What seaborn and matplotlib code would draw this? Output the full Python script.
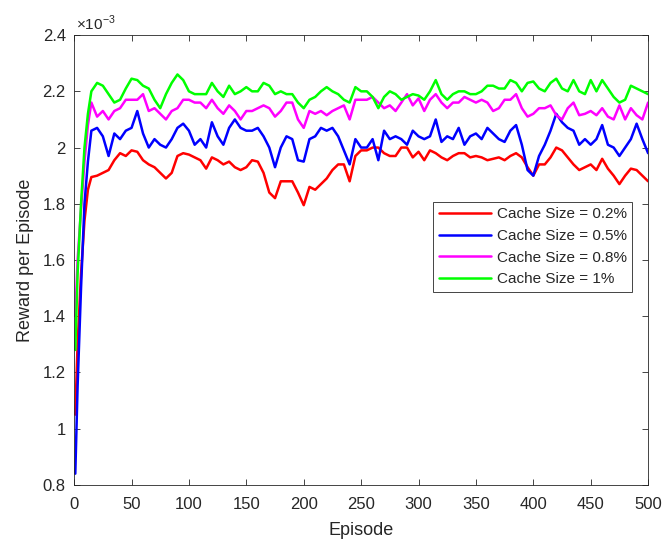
import pandas as pd
import matplotlib
matplotlib.use("Agg")
import matplotlib.pyplot as plt
import numpy as np
import seaborn as sns

# values, reward in units of 1e-3
episodes = [1, 3, 6, 9, 12] + list(range(15, 501, 5))

red = [1.05, 1.30, 1.55, 1.74, 1.85,
       1.895, 1.90, 1.91, 1.92, 1.955, 1.98, 1.97, 1.99, 1.985, 1.955, 1.94, 1.93, 1.91, 1.89, 1.91, 1.97, 1.98, 1.975,
       1.965, 1.955, 1.925, 1.965, 1.955, 1.94, 1.95, 1.93, 1.92, 1.93, 1.955, 1.95, 1.91, 1.84, 1.82, 1.88, 1.88, 1.88, 1.84, 1.795,
       1.86, 1.85, 1.87, 1.89, 1.92, 1.94, 1.94, 1.88, 1.97, 1.99, 1.99, 2.00, 2.00, 1.98, 1.97, 1.97, 2.00, 2.00, 1.965, 1.985,
       1.955, 1.99, 1.98, 1.965, 1.955, 1.97, 1.98, 1.98, 1.965, 1.97, 1.965, 1.955, 1.96, 1.965, 1.955, 1.97, 1.98, 1.965, 1.93, 1.90,
       1.94, 1.94, 1.965, 2.00, 1.99, 1.965, 1.94, 1.92, 1.93, 1.94, 1.92, 1.96, 1.925, 1.90, 1.87, 1.90, 1.925, 1.92, 1.90, 1.88]

blue = [0.84, 1.15, 1.50, 1.80, 1.95,
        2.06, 2.07, 2.04, 1.97, 2.05, 2.03, 2.06, 2.07, 2.13, 2.05, 2.00, 2.03, 2.01, 2.00, 2.03, 2.07, 2.085, 2.06,
        2.01, 2.03, 2.00, 2.09, 2.04, 2.01, 2.07, 2.10, 2.07, 2.06, 2.06, 2.07, 2.04, 2.00, 1.93, 2.00, 2.04, 2.03, 1.955, 1.95,
        2.03, 2.04, 2.07, 2.06, 2.07, 2.04, 1.99, 1.94, 2.03, 2.00, 2.00, 2.03, 1.955, 2.06, 2.03, 2.04, 2.03, 2.01, 2.06, 2.04,
        2.03, 2.04, 2.10, 2.02, 2.04, 2.03, 2.07, 2.01, 2.04, 2.05, 2.03, 2.07, 2.05, 2.03, 2.02, 2.06, 2.08, 2.01, 1.92, 1.90,
        1.97, 2.01, 2.06, 2.12, 2.09, 2.07, 2.06, 2.01, 2.03, 2.01, 2.03, 2.08, 2.01, 2.00, 1.97, 2.00, 2.03, 2.085, 2.03, 1.98]

magenta = [1.40, 1.60, 1.78, 1.95, 2.08,
           2.16, 2.11, 2.13, 2.10, 2.13, 2.14, 2.17, 2.17, 2.17, 2.19, 2.13, 2.14, 2.12, 2.10, 2.13, 2.14, 2.17, 2.17,
           2.16, 2.16, 2.14, 2.17, 2.14, 2.12, 2.15, 2.13, 2.10, 2.13, 2.13, 2.14, 2.15, 2.14, 2.11, 2.13, 2.16, 2.16, 2.10, 2.07,
           2.13, 2.12, 2.13, 2.115, 2.13, 2.14, 2.15, 2.10, 2.17, 2.17, 2.17, 2.18, 2.16, 2.14, 2.15, 2.13, 2.16, 2.19, 2.15, 2.175,
           2.13, 2.17, 2.19, 2.16, 2.14, 2.16, 2.16, 2.18, 2.17, 2.16, 2.17, 2.16, 2.13, 2.14, 2.17, 2.17, 2.19, 2.14, 2.11, 2.12,
           2.14, 2.14, 2.15, 2.115, 2.10, 2.14, 2.16, 2.115, 2.12, 2.13, 2.115, 2.14, 2.11, 2.10, 2.15, 2.10, 2.14, 2.115, 2.10, 2.16]

green = [1.28, 1.55, 1.80, 2.00, 2.12,
         2.20, 2.23, 2.22, 2.19, 2.16, 2.17, 2.21, 2.245, 2.24, 2.22, 2.21, 2.17, 2.14, 2.19, 2.23, 2.26, 2.24, 2.20,
         2.19, 2.19, 2.19, 2.23, 2.20, 2.18, 2.22, 2.19, 2.20, 2.215, 2.20, 2.20, 2.23, 2.22, 2.19, 2.20, 2.19, 2.19, 2.16, 2.14,
         2.17, 2.18, 2.20, 2.215, 2.20, 2.19, 2.17, 2.16, 2.215, 2.20, 2.20, 2.18, 2.14, 2.18, 2.20, 2.19, 2.17, 2.18, 2.19, 2.185,
         2.17, 2.20, 2.24, 2.19, 2.17, 2.19, 2.20, 2.20, 2.19, 2.19, 2.20, 2.22, 2.22, 2.21, 2.21, 2.24, 2.23, 2.20, 2.23, 2.235,
         2.21, 2.20, 2.23, 2.245, 2.21, 2.20, 2.24, 2.20, 2.19, 2.24, 2.20, 2.24, 2.21, 2.18, 2.16, 2.17, 2.22, 2.21, 2.20, 2.19]

labels = ["Cache Size = 0.2%", "Cache Size = 0.5%", "Cache Size = 0.8%", "Cache Size = 1%"]
colors = ["#ff0000", "#0000ff", "#ff00ff", "#00ff00"]
yticks = [0.8, 1, 1.2, 1.4, 1.6, 1.8, 2, 2.2, 2.4]
xticks = list(range(0, 501, 50))

sns.set_style("ticks")
plt.rcParams["font.family"] = ["Liberation Sans", "DejaVu Sans"]
plt.rcParams["mathtext.fontset"] = "custom"
plt.rcParams["mathtext.rm"] = "Liberation Sans"

fig = plt.figure(figsize=(6.62, 5.4), dpi=100)
ax = fig.add_axes([0.112, 0.102, 0.867, 0.833])

for ys, lab, col in zip([red, blue, magenta, green], labels, colors):
    sns.lineplot(x=episodes, y=ys, color=col, label=lab, lw=1.8, ax=ax)

ax.set_xlim(0, 500)
ax.set_ylim(0.8, 2.4)
ax.set_xticks(xticks)
ax.set_yticks(yticks)
ax.set_yticklabels(["%g" % t for t in yticks])
ax.tick_params(direction="in", length=4, width=0.6, colors="#262626",
               labelsize=12, top=True, right=True)
ax.tick_params(axis="x", pad=9)
ax.tick_params(axis="y", pad=6)
for s in ax.spines.values():
    s.set_color("#262626")
    s.set_linewidth(0.6)

ax.set_xlabel("Episode", fontsize=13, color="#262626", labelpad=7)
ax.set_ylabel("Reward per Episode", fontsize=13, color="#262626", labelpad=6)
ax.text(0.004, 1.004, r"$\times10^{-3}$", transform=ax.transAxes,
        ha="left", va="bottom", fontsize=11, color="#262626")

leg = ax.legend(loc="upper right", bbox_to_anchor=(0.972, 0.629), fontsize=11,
                frameon=True, fancybox=False, edgecolor="#262626", framealpha=1,
                handlelength=3.4, handletextpad=0.4, labelspacing=0.5,
                borderpad=0.35, borderaxespad=0)
leg.get_frame().set_linewidth(0.6)

fig.savefig("out.png", dpi=100)
